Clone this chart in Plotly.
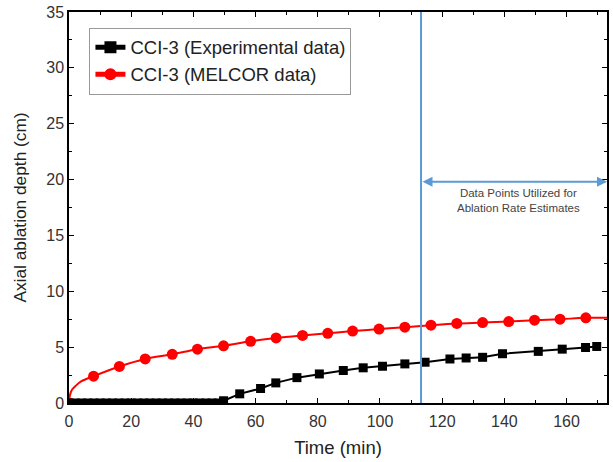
import plotly.graph_objects as go

# Experimental data (black squares)
exp_time = [0, 2, 4, 6, 8, 10, 12, 14, 16, 18, 20, 22, 24, 26, 28, 30, 32, 34, 36, 38, 40, 42, 44, 46, 48,
            49.7, 54.9, 61.6, 66.5, 73.3, 80.5, 88.2, 94.6, 100.8, 108, 114.5, 122.5, 127.7, 133,
            139.4, 150.9, 158.6, 166.1, 169.7]
exp_depth = [0]*25 + [0.2, 0.82, 1.3, 1.8, 2.27, 2.6, 2.91, 3.15, 3.29, 3.5, 3.65, 3.94, 4.03, 4.09,
                      4.41, 4.62, 4.82, 4.97, 5.06]

# MELCOR data (red circles)
mel_time = [0, 7.9, 16.2, 24.5, 33.2, 41.3, 49.7, 58.4, 66.6, 75.1, 83.2, 91.2, 99.7, 108, 116.4,
            124.7, 133, 141.4, 149.7, 157.9, 166.2]
mel_depth = [0, 2.4, 3.27, 3.94, 4.36, 4.82, 5.12, 5.52, 5.82, 6.05, 6.24, 6.44, 6.62, 6.79, 6.97,
             7.12, 7.2, 7.29, 7.41, 7.5, 7.62]
# MELCOR curve (includes the steep start and the tail to the axis edge)
mel_curve_time = [0, 0.3, 1, 2, 4] + mel_time[1:] + [173]
mel_curve_depth = [0, 0.7, 1.2, 1.5, 1.95] + mel_depth[1:] + [7.62]

x_ticks = [0, 20, 40, 60, 80, 100, 120, 140, 160]
y_ticks = [0, 5, 10, 15, 20, 25, 30, 35]
x_range = [0, 173]
y_range = [0, 35]
estimate_start = 113.2
arrow_level = 19.8

font_family = "Liberation Sans, Arial, sans-serif"

fig = go.Figure()

fig.add_trace(go.Scatter(
    x=mel_curve_time, y=mel_curve_depth, mode="lines", line=dict(color="#ff0000", width=2, shape="spline"),
    showlegend=False, hoverinfo="skip"))
fig.add_trace(go.Scatter(
    x=mel_time, y=mel_depth, mode="markers", marker=dict(color="#ff0000", size=11, symbol="circle"),
    showlegend=False))
fig.add_trace(go.Scatter(
    x=exp_time, y=exp_depth, mode="lines+markers", line=dict(color="#000000", width=2),
    marker=dict(color="#000000", size=9, symbol="square"),
    name="CCI-3 (Experimental data)"))
# legend entry for MELCOR
fig.add_trace(go.Scatter(
    x=[None], y=[None], mode="lines+markers", line=dict(color="#ff0000", width=2),
    marker=dict(color="#ff0000", size=11, symbol="circle"), name="CCI-3 (MELCOR data)"))

fig.add_shape(type="line", x0=estimate_start, x1=estimate_start, y0=0, y1=35, xref="x", yref="y",
              line=dict(color="#5b9bd5", width=2))

fig.add_annotation(x=x_range[1], y=arrow_level, ax=estimate_start, ay=arrow_level, xref="x", yref="y",
                   axref="x", ayref="y", text="", showarrow=True, arrowhead=2, arrowsize=1,
                   arrowwidth=2, arrowcolor="#5b9bd5", arrowside="end+start", standoff=0, startstandoff=0)
fig.add_annotation(x=144.5, y=18.1, xref="x", yref="y", text="Data Points Utilized for<br>Ablation Rate Estimates",
                   showarrow=False, font=dict(family=font_family, size=11.5, color="#444444"), align="center")

axis_common = dict(showline=True, linecolor="#000000", linewidth=1.5, mirror="ticks", ticks="inside",
                   ticklen=5, tickwidth=1.2, tickcolor="#000000", showgrid=False, zeroline=False,
                   automargin=False,
                   tickfont=dict(family=font_family, size=16, color="#333333"))

fig.update_xaxes(range=x_range, tickvals=x_ticks, ticklabelstandoff=3,
                 title=dict(text="Time (min)", standoff=12, font=dict(family=font_family, size=18.5, color="#222222")),
                 minor=dict(ticks="inside", ticklen=3, dtick=10, tickcolor="#000000"), **axis_common)
fig.update_yaxes(range=y_range, tickvals=y_ticks,
                 title=dict(text="Axial ablation depth (cm)", standoff=15, font=dict(family=font_family, size=17.3, color="#222222")),
                 minor=dict(ticks="inside", ticklen=3, dtick=2.5, tickcolor="#000000"), **axis_common)

fig.update_layout(
    width=613, height=462,
    margin=dict(l=69, r=6, t=12, b=59),
    plot_bgcolor="white", paper_bgcolor="white",
    font=dict(family=font_family),
    legend=dict(x=0.038, y=0.96, xanchor="left", yanchor="top", bgcolor="white", bordercolor="#999999",
                borderwidth=1, font=dict(family=font_family, size=18.5, color="#222222"),
                traceorder="normal", tracegroupgap=0, itemsizing="constant"),
)

fig.write_html("out.html", config={"displayModeBar": False},
               post_script="document.body.style.margin='0';document.body.style.overflow='hidden';")
